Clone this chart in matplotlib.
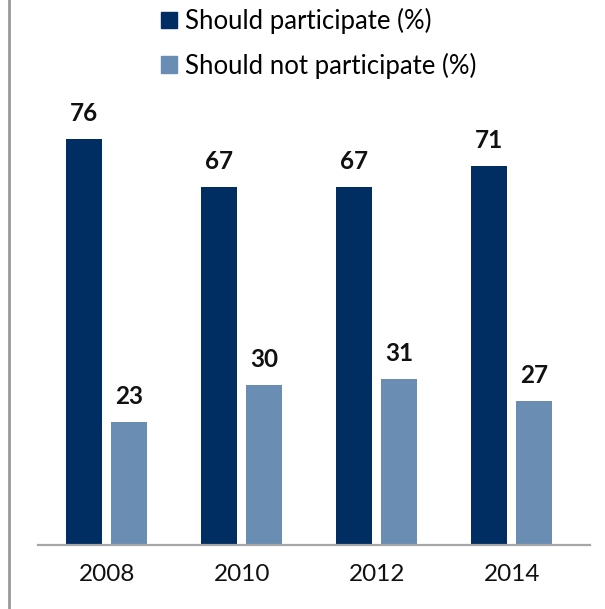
import matplotlib.pyplot as plt
import numpy as np
from matplotlib.patches import Patch
from matplotlib.lines import Line2D

plt.rcParams['font.family'] = ['Lato', 'DejaVu Sans']

years = ['2008', '2010', '2012', '2014']
should = [76, 67, 67, 71]
should_not = [23, 30, 31, 27]
series_names = ['Should participate (%)', 'Should not participate (%)']
dark = '#002D62'
light = '#6A8DB4'

fig = plt.figure(figsize=(6.05, 6.09), dpi=100)
ax = fig.add_axes([38/605, 64/609, 552/605, 545/609])

x = np.arange(len(years))
w = 0.267
off = 0.167
b1 = ax.bar(x - off, should, w, color=dark)
b2 = ax.bar(x + off, should_not, w, color=light)

# value labels above each bar
for bars, vals in ((b1, should), (b2, should_not)):
    for r, v in zip(bars, vals):
        ax.annotate(str(v), (r.get_x() + r.get_width()/2, v),
                    xytext=(0, 10), textcoords='offset points',
                    ha='center', va='bottom', fontsize=17.5, fontweight='bold',
                    color='#111111')

ax.set_xlim(-0.51, 3.58)
ax.set_ylim(0, 102)
ax.set_xticks(x)
ax.set_xticklabels(years, fontsize=17.5, color='#111111')
ax.tick_params(axis='x', length=0, pad=14)
ax.set_yticks([])
for s in ['top', 'right', 'left']:
    ax.spines[s].set_visible(False)
ax.spines['bottom'].set_color('#A6A6A6')
ax.spines['bottom'].set_linewidth(1.6)

# grey frame line on the left edge
fig.add_artist(Line2D([9/605, 9/605], [0, 1], color='#999999', lw=2))

handles = [Patch(color=dark), Patch(color=light)]
fig.legend(handles, series_names, loc='upper left',
           bbox_to_anchor=(161/605, 1 - 8/609), frameon=False,
           fontsize=18.5, handlelength=0.62, handleheight=0.62,
           handletextpad=0.3, labelspacing=0.72, borderpad=0, borderaxespad=0)

fig.savefig('out.png', dpi=100)
